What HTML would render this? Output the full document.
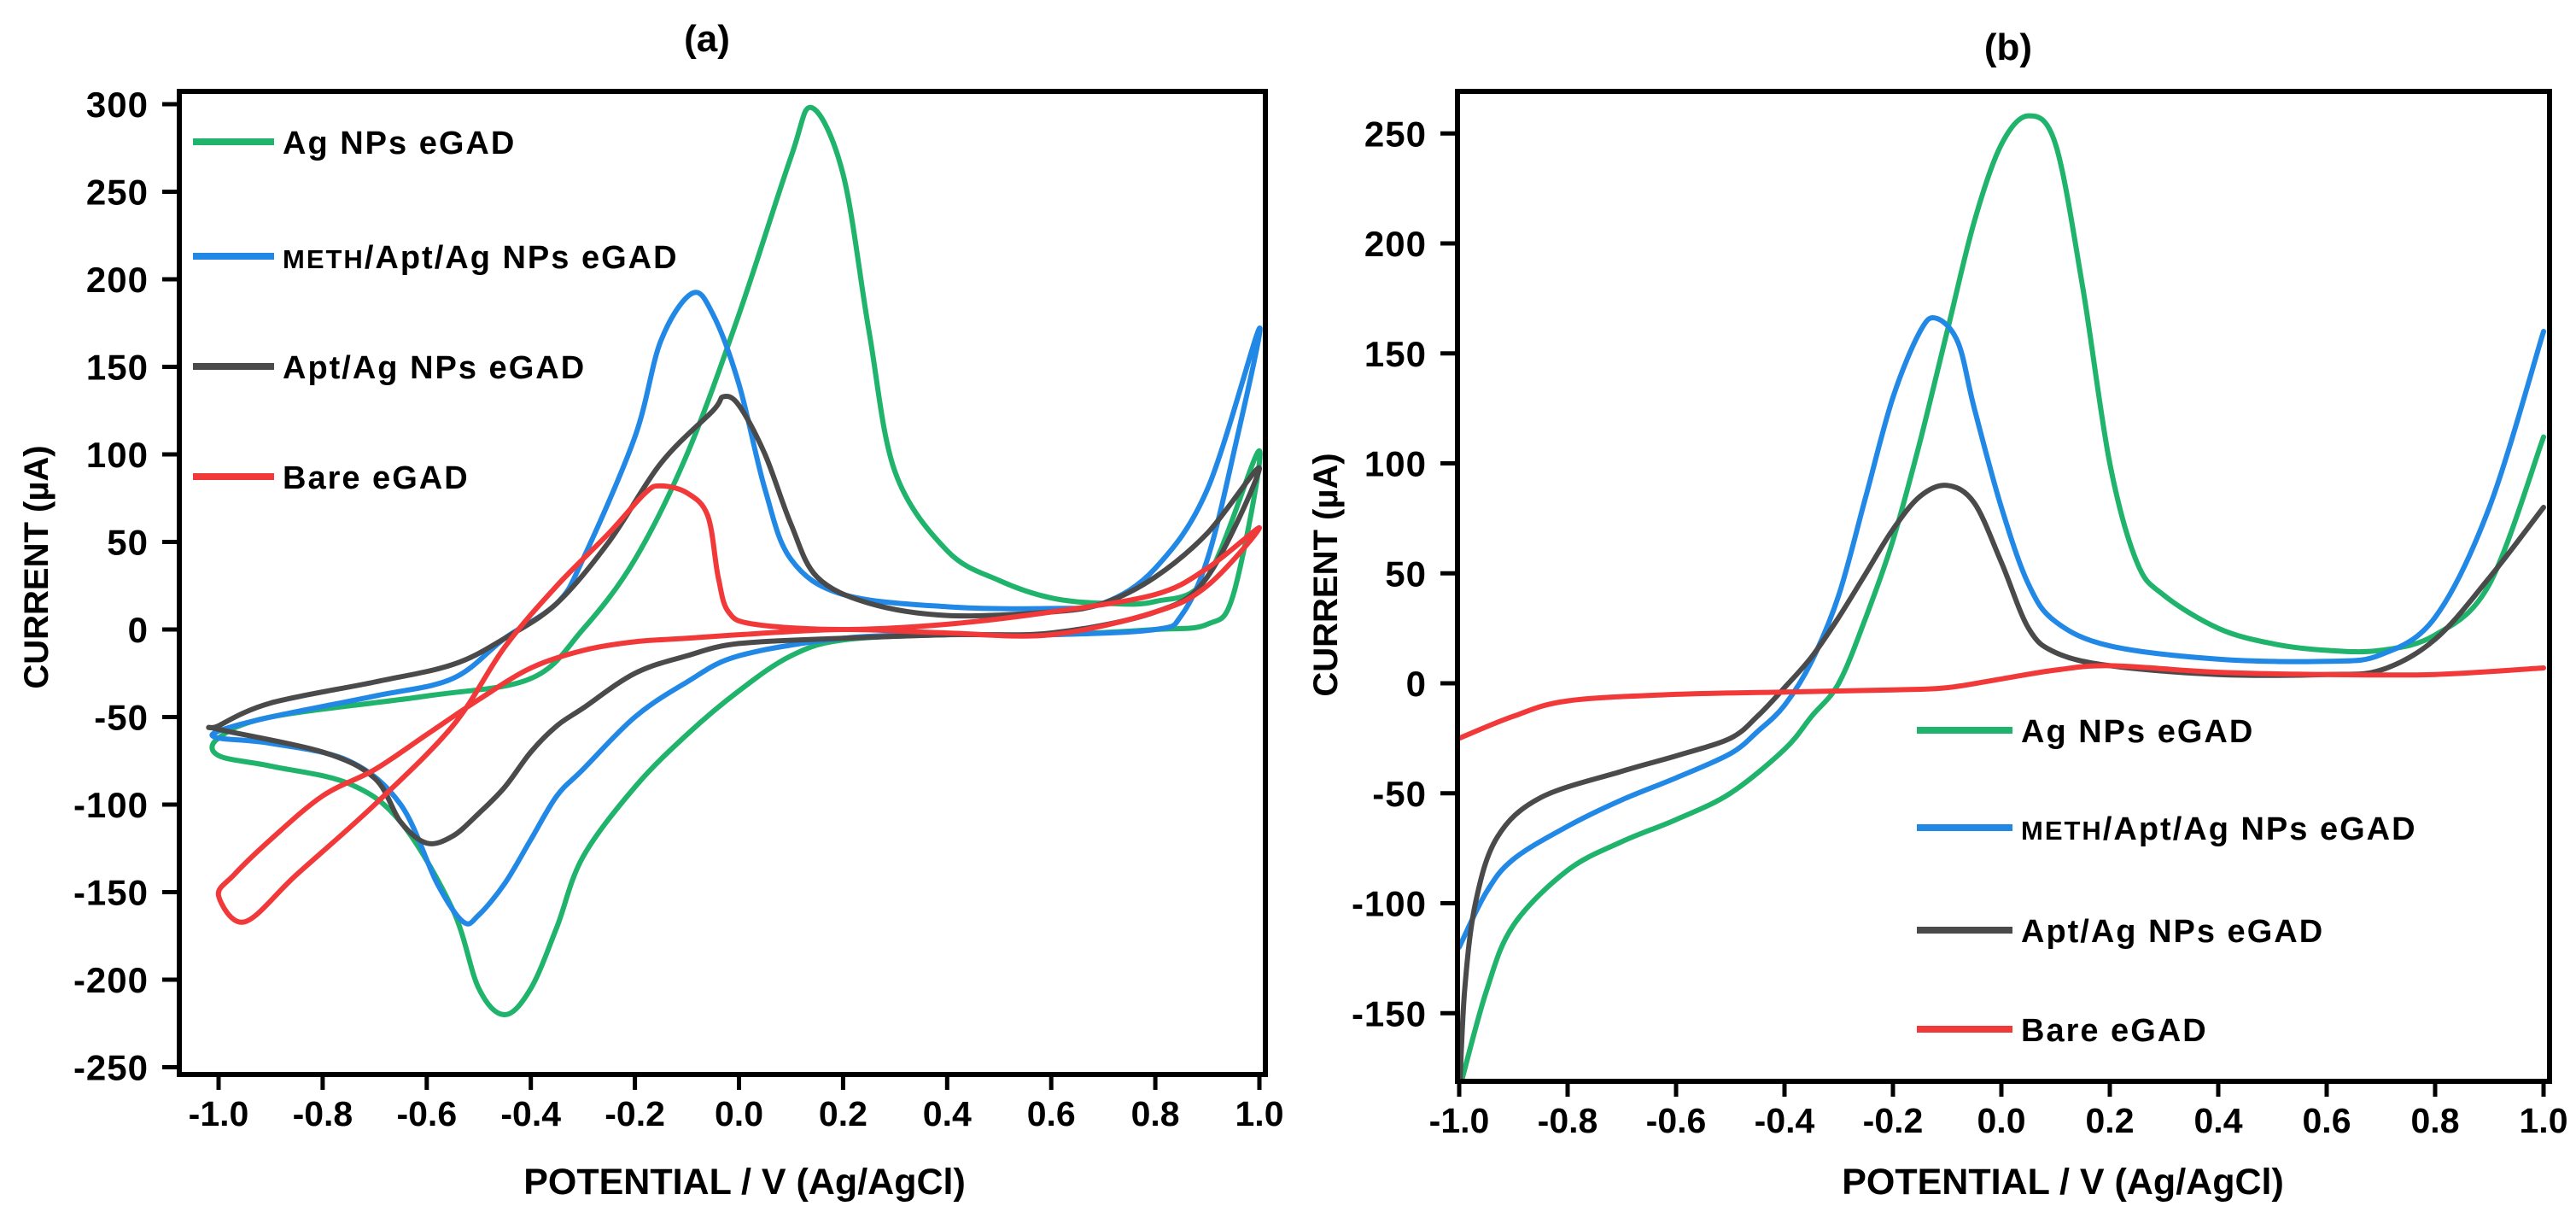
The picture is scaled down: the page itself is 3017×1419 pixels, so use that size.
<!DOCTYPE html>
<html><head><meta charset="utf-8">
<style>
html,body{margin:0;padding:0;background:#fff;overflow:hidden;}
svg{display:block;font-family:"Liberation Sans",Arial,sans-serif;font-weight:bold;}
</style></head>
<body>
<svg id="chart" width="3017" height="1419" viewBox="0 0 3017 1419" xmlns="http://www.w3.org/2000/svg">
<defs>
<clipPath id="clipA"><rect x="210" y="107" width="1272" height="1151"/></clipPath>
<clipPath id="clipB"><rect x="1707" y="107" width="1279" height="1159"/></clipPath>
</defs>
</svg>
<script>
// ---------- axis ticks ----------
const xTicksA = [-1.0,-0.8,-0.6,-0.4,-0.2,0.0,0.2,0.4,0.6,0.8,1.0];
const yTicksA = [300,250,200,150,100,50,0,-50,-100,-150,-200,-250];
const xTicksB = [-1.0,-0.8,-0.6,-0.4,-0.2,0.0,0.2,0.4,0.6,0.8,1.0];
const yTicksB = [250,200,150,100,50,0,-50,-100,-150];
const seriesNames = ["Ag NPs eGAD","METH/Apt/Ag NPs eGAD","Apt/Ag NPs eGAD","Bare eGAD"];

// ---------- panel (a) cyclic voltammograms (closed loops) ----------
const aGreenX = [-1.0,-0.9,-0.6,-0.4,-0.3,-0.2,-0.1,0.0,0.1,0.14,0.2,0.25,0.3,0.4,0.5,0.6,0.7,0.8,0.9,1.0,0.95,0.9,0.8,0.6,0.4,0.2,0.1,0.0,-0.1,-0.2,-0.3,-0.35,-0.4,-0.45,-0.5,-0.55,-0.65,-0.75,-0.9,-1.0];
const aGreenY = [-62,-50,-38,-28,0,40,100,180,270,298,260,170,90,45,28,18,15,16,30,102,20,3,0,-3,-3,-6,-15,-35,-60,-90,-130,-170,-205,-220,-205,-160,-110,-88,-78,-72];
const aBlueX = [-1.0,-0.9,-0.7,-0.55,-0.45,-0.35,-0.3,-0.2,-0.15,-0.09,-0.05,0.0,0.05,0.1,0.2,0.4,0.6,0.7,0.8,0.9,1.0,0.95,0.9,0.85,0.8,0.6,0.4,0.2,0.0,-0.1,-0.2,-0.3,-0.35,-0.4,-0.45,-0.5,-0.53,-0.58,-0.65,-0.75,-0.9,-1.0];
const aBlueY = [-58,-50,-38,-28,-5,15,40,110,165,192,180,140,80,40,20,13,12,15,35,80,172,100,40,8,0,-3,-3,-5,-15,-30,-50,-80,-95,-120,-145,-163,-167,-145,-100,-75,-65,-62];
const aGrayX = [-1.0,-0.9,-0.7,-0.55,-0.45,-0.35,-0.25,-0.15,-0.05,-0.03,0.0,0.05,0.1,0.15,0.25,0.4,0.6,0.7,0.8,0.9,1.0,0.9,0.8,0.6,0.4,0.2,0.0,-0.1,-0.2,-0.3,-0.35,-0.4,-0.45,-0.5,-0.55,-0.6,-0.65,-0.7,-0.8,-1.0];
const aGrayY = [-55,-42,-30,-20,-5,15,50,95,125,133,128,100,60,30,15,8,10,15,30,55,92,30,10,-2,-3,-5,-8,-15,-25,-45,-55,-70,-90,-105,-118,-122,-110,-85,-70,-57];
const aRedX = [-0.95,-0.85,-0.7,-0.55,-0.45,-0.35,-0.25,-0.18,-0.15,-0.1,-0.06,-0.04,-0.02,0.03,0.2,0.4,0.6,0.8,0.9,1.0,0.9,0.8,0.6,0.4,0.2,0.0,-0.1,-0.2,-0.3,-0.4,-0.5,-0.6,-0.7,-0.8,-0.9,-0.97,-1.0];
const aRedY = [-167,-140,-100,-55,-10,25,55,78,82,78,65,30,10,3,0,3,10,20,35,58,25,10,-3,-2,0,-3,-5,-7,-12,-22,-40,-60,-80,-95,-120,-140,-152];

// ---------- panel (b) linear sweeps ----------
const bGreenX = [-1.0,-0.95,-0.9,-0.8,-0.7,-0.6,-0.5,-0.4,-0.35,-0.3,-0.25,-0.2,-0.15,-0.1,-0.05,0.0,0.05,0.1,0.15,0.2,0.25,0.3,0.4,0.5,0.6,0.7,0.8,0.9,1.0];
const bGreenY = [-185,-140,-110,-85,-72,-62,-50,-30,-15,0,30,65,110,160,210,245,258,245,180,100,55,40,25,18,15,15,22,45,112];
const bBlueX = [-1.0,-0.95,-0.9,-0.8,-0.7,-0.6,-0.5,-0.45,-0.4,-0.35,-0.3,-0.25,-0.2,-0.15,-0.12,-0.08,-0.05,0.0,0.05,0.1,0.2,0.4,0.6,0.7,0.8,0.9,1.0];
const bBlueY = [-120,-95,-80,-65,-53,-43,-32,-22,-10,10,40,85,130,160,166,155,125,80,45,28,17,11,10,13,30,80,160];
const bGrayX = [-1.0,-0.99,-0.97,-0.93,-0.85,-0.7,-0.6,-0.5,-0.45,-0.4,-0.35,-0.3,-0.25,-0.2,-0.15,-0.1,-0.05,0.0,0.05,0.1,0.2,0.4,0.6,0.7,0.8,0.9,1.0];
const bGrayY = [-190,-140,-100,-70,-52,-40,-33,-25,-15,-2,12,30,50,70,85,90,82,55,25,14,8,4,4,6,20,48,80];
const bRedX = [-1.0,-0.9,-0.8,-0.6,-0.4,-0.2,-0.1,0.0,0.1,0.2,0.4,0.6,0.8,1.0];
const bRedY = [-25,-15,-8,-5,-4,-3,-2,2,6,8,5,4,4,7];

const COLORS = ["#1fb36c","#2288e6","#4a4a4a","#f2393a"];
const NS = "http://www.w3.org/2000/svg";
const svg = document.getElementById("chart");

function mk(tag, attrs, parent){
  const e = document.createElementNS(NS, tag);
  for (const k in attrs) e.setAttribute(k, attrs[k]);
  (parent||svg).appendChild(e);
  return e;
}
function scale(d0,d1,r0,r1){ return v => r0 + (v-d0)*(r1-r0)/(d1-d0); }

function smoothPath(pts, closed){
  const n = pts.length;
  const get = i => closed ? pts[(i+n)%n] : pts[Math.max(0,Math.min(n-1,i))];
  let d = "M"+pts[0][0].toFixed(1)+","+pts[0][1].toFixed(1);
  const last = closed ? n : n-1;
  for (let i=0;i<last;i++){
    const p0=get(i-1),p1=get(i),p2=get(i+1),p3=get(i+2);
    const c1=[p1[0]+(p2[0]-p0[0])/6,p1[1]+(p2[1]-p0[1])/6];
    const c2=[p2[0]-(p3[0]-p1[0])/6,p2[1]-(p3[1]-p1[1])/6];
    d+=" C"+c1[0].toFixed(1)+","+c1[1].toFixed(1)+" "+c2[0].toFixed(1)+","+c2[1].toFixed(1)+" "+p2[0].toFixed(1)+","+p2[1].toFixed(1);
  }
  if (closed) d+=" Z";
  return d;
}

function panel(cfg){
  const {box, xs, ys, xTicks, yTicks, clip, title, titlePos, ylabelPos, xlabelPos, series, closed, legend, prefix} = cfg;
  const g = mk("g",{});
  
  
  const t = mk("text",{x:titlePos[0],y:titlePos[1],"font-size":44,"text-anchor":"middle"},g);
  t.textContent = title;
  
  
  const cg = mk("g",{"clip-path":"url(#"+clip+")"},g);
  series.forEach((s,i)=>{
    const pts = s[0].map((x,j)=>[xs(x), ys(s[1][j])]);
    const p = mk("path",{d:smoothPath(pts,closed),fill:"none",stroke:COLORS[i],"stroke-width":6,"stroke-linejoin":"round","stroke-linecap":"round"},cg);
    
    
  });
  const fr = mk("rect",{x:box[0],y:box[1],width:box[2]-box[0],height:box[3]-box[1],fill:"none",stroke:"#000","stroke-width":6},g);
  
  
  yTicks.forEach(v=>{
    const y = ys(v);
    const l = mk("line",{x1:box[0]-20,x2:box[0],y1:y,y2:y,stroke:"#000","stroke-width":5},g);
    
    
    const tx = mk("text",{x:box[0]-36,y:y+15,"font-size":42,"text-anchor":"end","letter-spacing":1},g);
    tx.textContent = String(v);
    
    
  });
  xTicks.forEach(v=>{
    const x = xs(v);
    const l = mk("line",{x1:x,x2:x,y1:box[3],y2:box[3]+18,stroke:"#000","stroke-width":5},g);
    
    
    const tx = mk("text",{x:x,y:box[3]+60,"font-size":41,"text-anchor":"middle"},g);
    tx.textContent = v.toFixed(1);
    
    
  });
  const yl = mk("text",{x:0,y:0,"font-size":40,"text-anchor":"middle",transform:"translate("+ylabelPos[0]+","+ylabelPos[1]+") rotate(-90)"},g);
  yl.textContent = "CURRENT (µA)";
  
  
  const xl = mk("text",{x:xlabelPos[0],y:xlabelPos[1],"font-size":43,"text-anchor":"middle"},g);
  xl.textContent = "POTENTIAL / V (Ag/AgCl)";
  
  
  legend.ys.forEach((ly,i)=>{
    const le = mk("g",{},g);
    
    
    mk("line",{x1:legend.x0,x2:legend.x1,y1:ly,y2:ly,stroke:COLORS[i],"stroke-width":8},le);
    const lt = mk("text",{x:legend.tx,y:ly+14,"font-size":38,"letter-spacing":2},le);
    if (i===1){
      const s1 = mk("tspan",{"font-size":31},lt); s1.textContent="METH";
      const s2 = mk("tspan",{},lt); s2.textContent="/Apt/Ag NPs eGAD";
    } else lt.textContent = seriesNames[i];
  });
}

const xsA = scale(-1,1,256,1475), ysA = scale(0,50,737,634.5);
panel({prefix:"panel-a",box:[210,107,1482,1258],xs:xsA,ys:ysA,xTicks:xTicksA,yTicks:yTicksA,clip:"clipA",
  title:"(a)",titlePos:[828,60],ylabelPos:[56,664],xlabelPos:[872,1398],closed:true,
  series:[[aGreenX,aGreenY],[aBlueX,aBlueY],[aGrayX,aGrayY],[aRedX,aRedY]],
  legend:{x0:226,x1:321,tx:331,ys:[166,300,429,558]}});

const xsB = scale(-1,1,1709,2979), ysB = scale(0,50,800,671.25);
panel({prefix:"panel-b",box:[1707,107,2986,1266],xs:xsB,ys:ysB,xTicks:xTicksB,yTicks:yTicksB,clip:"clipB",
  title:"(b)",titlePos:[2352,70],ylabelPos:[1566,673],xlabelPos:[2416,1398],closed:false,
  series:[[bGreenX,bGreenY],[bBlueX,bBlueY],[bGrayX,bGrayY],[bRedX,bRedY]],
  legend:{x0:2245,x1:2357,tx:2367,ys:[855,969,1089,1205]}});
</script>
</body></html>
